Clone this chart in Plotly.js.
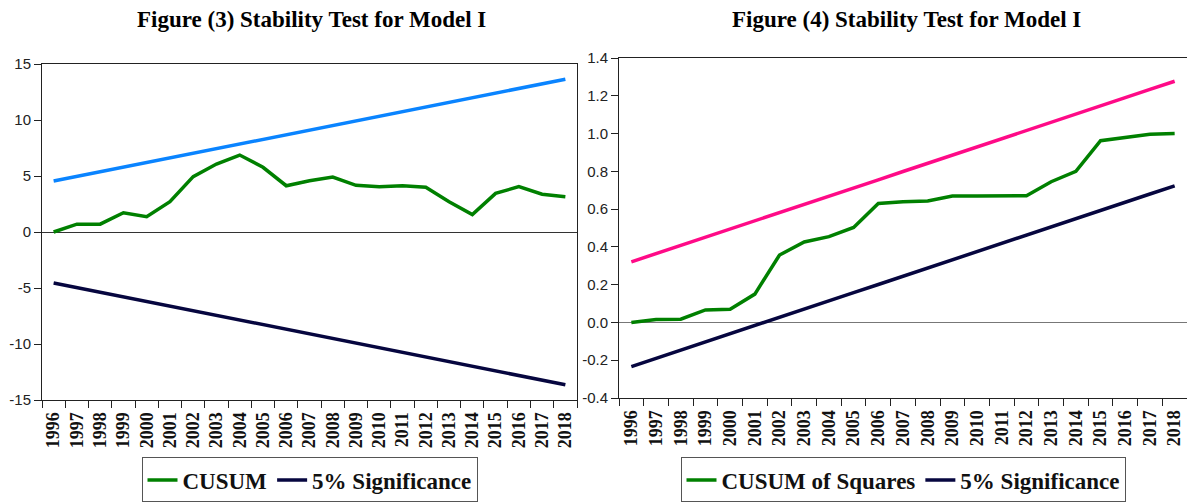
<!DOCTYPE html>
<html>
<head>
<meta charset="utf-8">
<script src="https://cdn.plot.ly/plotly-3.0.1.min.js"></script>
<style>
html,body{margin:0;padding:0;background:#fff;}
#chart{width:1187px;height:503px;}
</style>
</head>
<body>
<div id="chart"></div>
<script>
const years = ["1996","1997","1998","1999","2000","2001","2002","2003","2004","2005","2006","2007","2008","2009","2010","2011","2012","2013","2014","2015","2016","2017","2018"];

// Figure (3): CUSUM
const cusum = [0.0,0.70,0.70,1.72,1.37,2.70,4.94,6.07,6.87,5.78,4.13,4.58,4.91,4.17,4.05,4.13,3.99,2.70,1.55,3.45,4.05,3.37,3.15];
const cusumUpper = [4.55,4.96,5.37,5.79,6.20,6.61,7.03,7.44,7.85,8.27,8.68,9.09,9.51,9.92,10.33,10.75,11.16,11.57,11.99,12.40,12.81,13.23,13.64];
const cusumLower = [-4.55,-4.96,-5.37,-5.79,-6.20,-6.61,-7.03,-7.44,-7.85,-8.27,-8.68,-9.09,-9.51,-9.92,-10.33,-10.75,-11.16,-11.57,-11.99,-12.40,-12.81,-13.23,-13.64];

// Figure (4): CUSUM of Squares
const cusumSq = [0.000,0.016,0.017,0.066,0.070,0.150,0.357,0.426,0.454,0.503,0.630,0.639,0.643,0.669,0.669,0.669,0.671,0.745,0.800,0.962,0.978,0.996,1.000];
const sqUpper = [0.321,0.364,0.408,0.451,0.494,0.538,0.581,0.625,0.668,0.712,0.755,0.799,0.842,0.886,0.929,0.973,1.016,1.060,1.103,1.147,1.190,1.234,1.277];
const sqLower = [-0.234,-0.190,-0.147,-0.103,-0.060,-0.016,0.027,0.071,0.114,0.158,0.201,0.245,0.288,0.332,0.375,0.419,0.462,0.506,0.549,0.593,0.636,0.680,0.723];

const yTicks3 = [-15,-10,-5,0,5,10,15];
const yTickText3 = ["-15","-10","-5","0","5","10","15"];
const yTicks4 = [-0.4,-0.2,0.0,0.2,0.4,0.6,0.8,1.0,1.2,1.4];
const yTickText4 = ["-0.4","-0.2","0.0","0.2","0.4","0.6","0.8","1.0","1.2","1.4"];

const titles = ["Figure (3) Stability Test for Model I","Figure (4) Stability Test for Model I"];
const names = ["CUSUM","5% Significance","CUSUM of Squares"];

const GREEN = "#008000", BLUE = "#0A84FF", NAVY = "#06063F", PINK = "#FF0A87";
const LW = 3.5;

const traces = [
  {x: years, y: cusum, type: "scatter", mode: "lines", name: names[0], line: {color: GREEN, width: LW}, xaxis: "x", yaxis: "y", legend: "legend"},
  {x: years, y: cusumLower, type: "scatter", mode: "lines", name: names[1], line: {color: NAVY, width: LW}, xaxis: "x", yaxis: "y", legend: "legend"},
  {x: years, y: cusumUpper, type: "scatter", mode: "lines", name: "upper", showlegend: false, line: {color: BLUE, width: LW}, xaxis: "x", yaxis: "y"},
  {x: years, y: cusumSq, type: "scatter", mode: "lines", name: names[2], line: {color: GREEN, width: LW}, xaxis: "x2", yaxis: "y2", legend: "legend2"},
  {x: years, y: sqLower, type: "scatter", mode: "lines", name: names[1], line: {color: NAVY, width: LW}, xaxis: "x2", yaxis: "y2", legend: "legend2"},
  {x: years, y: sqUpper, type: "scatter", mode: "lines", name: "upper", showlegend: false, line: {color: PINK, width: LW}, xaxis: "x2", yaxis: "y2"}
];

const W = 1187, H = 503;
const xTickFont = {family: "Liberation Serif, Times New Roman, serif", size: 18, color: "#111", weight: "bold"};
const yTickFont = {family: "Liberation Sans, Arial, sans-serif", size: 15, color: "#222"};

function xAxis(l, r, anchor) {
  return {
    domain: [l / W, r / W], anchor: anchor, type: "category", range: [-0.5, 22.5],
    tickson: "boundaries", ticks: "outside", ticklen: 7, tickcolor: "#222", tickwidth: 1,
    ticklabelstandoff: 4,
    tickangle: -90, tickfont: xTickFont, showgrid: false, zeroline: false,
    showline: true, linecolor: "#222", linewidth: 1, mirror: true, automargin: false, fixedrange: true
  };
}
function yAxis(top, bottom, anchor, range, ticks, text, zc) {
  return {
    domain: [(H - bottom) / H, (H - top) / H], anchor: anchor, range: range,
    tickmode: "array", tickvals: ticks, ticktext: text,
    ticks: "outside", ticklen: 7, tickcolor: "#222", tickwidth: 1, tickfont: yTickFont,
    showgrid: false, zeroline: true, zerolinecolor: zc, zerolinewidth: 1,
    showline: true, linecolor: "#222", linewidth: 1, mirror: true, automargin: false, fixedrange: true
  };
}

const legendBase = {
  orientation: "h", xanchor: "center", yanchor: "bottom", y: 0.001,
  bordercolor: "#555", borderwidth: 1, bgcolor: "#fff",
  font: {family: "Liberation Serif, Times New Roman, serif", size: 23, color: "#111", weight: "bold"}
};

const titleFont = {family: "Liberation Serif, Times New Roman, serif", size: 23, color: "#000", weight: "bold"};

const layout = {
  width: W, height: H,
  margin: {l: 0, r: 0, t: 0, b: 0},
  paper_bgcolor: "#fff", plot_bgcolor: "#fff",
  showlegend: true,
  xaxis: xAxis(42, 577, "y"),
  yaxis: yAxis(64, 400, "x", [-15, 15], yTicks3, yTickText3, "#333"),
  xaxis2: xAxis(619, 1187, "y2"),
  yaxis2: yAxis(58, 398, "x2", [-0.4, 1.4], yTicks4, yTickText4, "#777"),
  legend: Object.assign({}, legendBase, {x: (42 + 577) / 2 / W}),
  legend2: Object.assign({}, legendBase, {x: (619 + 1187) / 2 / W}),
  annotations: [
    {text: titles[0], xref: "paper", yref: "paper", x: 311 / W, y: (H - 19) / H, xanchor: "center", yanchor: "middle", showarrow: false, font: titleFont},
    {text: titles[1], xref: "paper", yref: "paper", x: 906 / W, y: (H - 19) / H, xanchor: "center", yanchor: "middle", showarrow: false, font: titleFont}
  ]
};

Plotly.newPlot("chart", traces, layout, {displayModeBar: false, staticPlot: true});
</script>
</body>
</html>
